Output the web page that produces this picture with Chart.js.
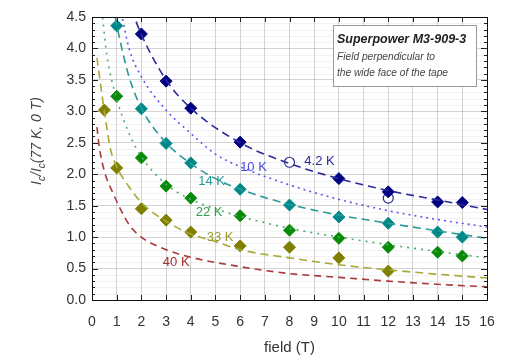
<!DOCTYPE html>
<html>
<head>
<meta charset="utf-8">
<script src="https://cdn.jsdelivr.net/npm/chart.js@4"></script>
<style>
  body { margin: 0; background: #fff; }
  #wrap { width: 510px; height: 358px; }
</style>
</head>
<body>
<div id="wrap"><canvas id="chart" width="510" height="358"></canvas></div>
<script>
// measured points (field in T, Ic/Ic(77K,0T))
var pts42x = [2, 3, 4, 6, 10, 12, 14, 15];
var pts42y = [4.23, 3.48, 3.05, 2.51, 1.93, 1.72, 1.56, 1.55];
var open42x = [8, 12];
var open42y = [2.19, 1.62];
var pts14x = [1, 2, 3, 4, 6, 8, 10, 12, 14, 15];
var pts14y = [4.36, 3.04, 2.49, 2.18, 1.76, 1.51, 1.32, 1.22, 1.08, 1.00];
var pts22x = [1, 2, 3, 4, 6, 8, 10, 12, 14, 15];
var pts22y = [3.24, 2.26, 1.81, 1.62, 1.34, 1.11, 0.98, 0.84, 0.76, 0.70];
var pts33x = [0.5, 1, 2, 3, 4, 6, 8, 10, 12];
var pts33y = [3.02, 2.10, 1.45, 1.27, 1.08, 0.86, 0.84, 0.67, 0.46];

// fitted curves
var fit42x = [1.6, 2, 3, 4, 6, 8, 10, 12, 14, 16];
var fit42y = [4.62, 4.22, 3.5, 3.05, 2.5, 2.17, 1.93, 1.74, 1.59, 1.44];
var fit10x = [1.1, 1.25, 1.5, 2, 3, 4, 5, 6, 8, 10, 12, 14, 16];
var fit10y = [4.75, 4.45, 4.0, 3.55, 3.02, 2.65, 2.32, 2.12, 1.83, 1.6, 1.42, 1.28, 1.16];
var fit14x = [0.85, 1, 1.5, 2, 3, 4, 5, 6, 8, 10, 12, 14, 16];
var fit14y = [4.7, 4.38, 3.55, 3.05, 2.5, 2.17, 1.93, 1.76, 1.52, 1.35, 1.22, 1.1, 0.98];
var fit22x = [0.4, 0.6, 1, 1.5, 2, 3, 4, 5, 6, 8, 10, 12, 14, 16];
var fit22y = [4.6, 3.9, 3.2, 2.65, 2.28, 1.84, 1.6, 1.45, 1.33, 1.14, 1.0, 0.88, 0.77, 0.67];
var fit33x = [0.2, 0.5, 0.75, 1, 1.5, 2, 3, 4, 5, 6, 8, 10, 12, 14, 16];
var fit33y = [3.85, 3.0, 2.4, 2.12, 1.8, 1.55, 1.25, 1.05, 0.93, 0.8, 0.67, 0.56, 0.48, 0.41, 0.35];
var fit40x = [0.2, 0.3, 0.5, 0.85, 1.5, 2, 3, 4, 6, 8, 10, 12, 14, 16];
var fit40y = [2.75, 2.42, 2.05, 1.7, 1.2, 1.0, 0.8, 0.68, 0.53, 0.42, 0.36, 0.3, 0.25, 0.21];

var curveLabels = ['4.2 K', '10 K', '14 K', '22 K', '33 K', '40 K'];
var xTicks = [0, 1, 2, 3, 4, 5, 6, 7, 8, 9, 10, 11, 12, 13, 14, 15, 16];
var yTicks = ['0.0', '0.5', '1.0', '1.5', '2.0', '2.5', '3.0', '3.5', '4.0', '4.5'];

function xy(xs, ys) {
  return xs.map(function(x, i) { return {x: x, y: ys[i]}; });
}

function curve(xs, ys, color, dash) {
  return {
    data: xy(xs, ys),
    showLine: true,
    borderColor: color,
    borderWidth: 1.6,
    borderDash: dash,
    pointRadius: 0,
    cubicInterpolationMode: 'monotone',
    fill: false
  };
}

function marks(xs, ys, color) {
  return {
    data: xy(xs, ys),
    showLine: false,
    pointStyle: 'rectRot',
    pointRadius: 6,
    backgroundColor: color,
    borderColor: color,
    borderWidth: 1
  };
}

var extras = {
  id: 'extras',
  beforeDatasetsDraw: function(chart) {
    var ctx = chart.ctx, a = chart.chartArea, ys = chart.scales.y;
    ctx.save();
    ctx.strokeStyle = 'rgba(0,0,0,0.05)';
    ctx.lineWidth = 1;
    for (var i = 1; i < 45; i++) {
      if (i % 5 === 0) continue;
      var py = Math.round(ys.getPixelForValue(i / 10)) + 0.5;
      ctx.beginPath(); ctx.moveTo(a.left, py); ctx.lineTo(a.right, py); ctx.stroke();
    }
    ctx.restore();
  },
  afterDraw: function(chart) {
    var ctx = chart.ctx, a = chart.chartArea, xs = chart.scales.x, ys = chart.scales.y;
    ctx.save();
    // ticks
    ctx.strokeStyle = '#222';
    ctx.lineWidth = 1;
    for (var i = 0; i <= 45; i++) {
      var py = Math.round(ys.getPixelForValue(i / 10)) + 0.5;
      var len = i % 5 === 0 ? 6 : 3;
      ctx.beginPath();
      ctx.moveTo(a.left, py); ctx.lineTo(a.left + len, py);
      ctx.moveTo(a.right, py); ctx.lineTo(a.right - len, py);
      ctx.stroke();
    }
    for (var k = 0; k <= 16; k++) {
      var px = Math.round(xs.getPixelForValue(k)) + 0.5;
      ctx.beginPath();
      ctx.moveTo(px, a.top); ctx.lineTo(px, a.top + 5);
      ctx.moveTo(px, a.bottom); ctx.lineTo(px, a.bottom - 5);
      ctx.stroke();
    }
    ctx.strokeStyle = '#111';
    ctx.strokeRect(Math.round(a.left) + 0.5, Math.round(a.top) + 0.5,
      Math.round(a.right - a.left), Math.round(a.bottom - a.top));

    // curve labels
    var labelAt = [[8.6, 2.2], [6.0, 2.11], [4.3, 1.89], [4.2, 1.39], [4.65, 1.0], [2.87, 0.59]];
    var labelColors = ['#2a2a9a', '#4a4ae0', '#2a9a9a', '#2e9e4e', '#9a9a2a', '#a03030'];
    ctx.font = '13px "Liberation Sans", Arial, sans-serif';
    ctx.textAlign = 'left';
    ctx.textBaseline = 'middle';
    curveLabels.forEach(function(t, i) {
      ctx.fillStyle = labelColors[i];
      ctx.fillText(t, xs.getPixelForValue(labelAt[i][0]), ys.getPixelForValue(labelAt[i][1]));
    });

    // note box
    ctx.fillStyle = '#fff';
    ctx.fillRect(333, 25, 143, 61);
    ctx.strokeStyle = '#999';
    ctx.strokeRect(333.5, 25.5, 143, 61);
    ctx.fillStyle = '#222';
    ctx.font = 'italic bold 12.5px "Liberation Sans", Arial, sans-serif';
    ctx.fillText('Superpower M3-909-3', 337, 40);
    ctx.fillStyle = '#444';
    ctx.font = 'italic 10.2px "Liberation Sans", Arial, sans-serif';
    ctx.fillText('Field perpendicular to', 337, 57);
    ctx.fillText('the wide face of the tape', 337, 73);

    // axis titles
    ctx.fillStyle = '#333';
    ctx.font = '15px "Liberation Sans", Arial, sans-serif';
    ctx.textAlign = 'center';
    ctx.fillText('field (T)', (a.left + a.right) / 2, 348);

    ctx.translate(37, 141);
    ctx.rotate(-Math.PI / 2);
    var parts = [['I', 0], ['c', 1], ['/I', 0], ['c', 1], ['(77 K, 0 T)', 0]];
    var big = 'italic 14px "Liberation Sans", Arial, sans-serif';
    var small = 'italic 10px "Liberation Sans", Arial, sans-serif';
    var total = 0;
    parts.forEach(function(p) { ctx.font = p[1] ? small : big; total += ctx.measureText(p[0]).width; });
    var cx = -total / 2;
    ctx.textAlign = 'left';
    ctx.fillStyle = '#444';
    parts.forEach(function(p) {
      ctx.font = p[1] ? small : big;
      ctx.fillText(p[0], cx, p[1] ? 5 : 0);
      cx += ctx.measureText(p[0]).width;
    });
    ctx.restore();
  }
};

new Chart(document.getElementById('chart').getContext('2d'), {
  type: 'scatter',
  data: {
    datasets: [
      curve(fit42x, fit42y, '#2a2a9a', [8, 5]),
      curve(fit10x, fit10y, '#5a5af0', [2, 4]),
      curve(fit14x, fit14y, '#2a9a9a', [8, 5]),
      curve(fit22x, fit22y, '#4aae6a', [2, 5]),
      curve(fit33x, fit33y, '#a8a838', [8, 5]),
      curve(fit40x, fit40y, '#a83a3a', [7, 5]),
      marks(pts42x, pts42y, '#000080'),
      {
        data: xy(open42x, open42y),
        showLine: false,
        pointStyle: 'circle',
        pointRadius: 5,
        backgroundColor: '#fff',
        borderColor: '#2a2a9a',
        borderWidth: 1.2
      },
      marks(pts14x, pts14y, '#008888'),
      marks(pts22x, pts22y, '#088a08'),
      marks(pts33x, pts33y, '#808000')
    ]
  },
  options: {
    responsive: false,
    animation: false,
    layout: { padding: { top: 17, right: 23, left: 0, bottom: 0 } },
    plugins: { legend: { display: false }, tooltip: { enabled: false } },
    scales: {
      x: {
        type: 'linear', min: 0, max: 16,
        afterBuildTicks: function(s) { s.ticks = xTicks.map(function(v) { return {value: v}; }); },
        afterFit: function(s) { s.height = 58; },
        grid: { color: 'rgba(0,0,0,0.17)', drawTicks: false },
        border: { display: false },
        ticks: { color: '#333', padding: 14, maxRotation: 0, autoSkip: false,
          font: { size: 14, family: '"Liberation Sans", Arial, sans-serif' } }
      },
      y: {
        type: 'linear', min: 0, max: 4.5,
        afterBuildTicks: function(s) { s.ticks = yTicks.map(function(v) { return {value: parseFloat(v)}; }); },
        afterFit: function(s) { s.width = 92; },
        grid: { color: 'rgba(0,0,0,0.17)', drawTicks: false },
        border: { display: false },
        ticks: { color: '#333', padding: 6, autoSkip: false,
          callback: function(v) { return v.toFixed(1); },
          font: { size: 14, family: '"Liberation Sans", Arial, sans-serif' } }
      }
    }
  },
  plugins: [extras]
});
</script>
</body>
</html>
